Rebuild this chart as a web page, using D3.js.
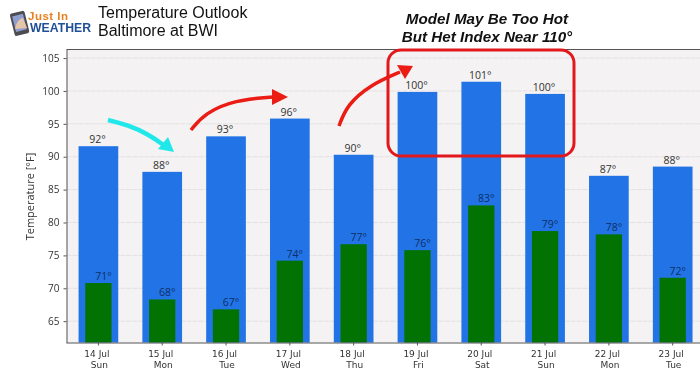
<!DOCTYPE html>
<html>
<head>
<meta charset="utf-8">
<script src="https://d3js.org/d3.v7.min.js"></script>
<style>
  html, body { margin: 0; padding: 0; background: #fff; overflow: hidden; }
  svg { filter: blur(0.35px); }
  text { font-family: "Open Sans", "Noto Sans", sans-serif; }
  .axis text { font-size: 10px; fill: #333; }
  .axis path, .axis line { stroke: #555; }
  .xaxis text { font-family: "DejaVu Sans", sans-serif; font-size: 9px; }
  .head text { font-family: "Liberation Sans", Arial, sans-serif; }
</style>
</head>
<body>
<svg id="chart" width="700" height="375"></svg>
<script>
let days = ['14 Jul', '15 Jul', '16 Jul', '17 Jul', '18 Jul', '19 Jul', '20 Jul', '21 Jul', '22 Jul', '23 Jul']
let weekdays = ['Sun', 'Mon', 'Tue', 'Wed', 'Thu', 'Fri', 'Sat', 'Sun', 'Mon', 'Tue']
let highs = [91.6, 87.7, 93.1, 95.8, 90.3, 99.85, 101.4, 99.55, 87.1, 88.5]
let lows = [70.8, 68.3, 66.8, 74.2, 76.7, 75.8, 82.6, 78.7, 78.2, 71.6]
let highLabels = ['92°', '88°', '93°', '96°', '90°', '100°', '101°', '100°', '87°', '88°']
let lowLabels = ['71°', '68°', '67°', '74°', '77°', '76°', '83°', '79°', '78°', '72°']
let yTicks = [65, 70, 75, 80, 85, 90, 95, 100, 105]

let margin = { top: 49.5, left: 66.5, bottom: 342.5 }
let svg = d3.select('#chart')

let x = d3.scaleBand().domain(days).range([margin.left, 704.6]).paddingInner(0.378).paddingOuter(0.189)
let xLow = d3.scaleBand().domain(days).range([margin.left, 704.6]).paddingInner(0.588).paddingOuter(0.294)
let y = d3.scaleLinear().domain([61.76, 106.3]).range([margin.bottom, margin.top])

// plot background
svg.append('rect')
  .attr('x', margin.left).attr('y', margin.top)
  .attr('width', 700 - margin.left).attr('height', margin.bottom - margin.top)
  .attr('fill', '#f4f2f3')

// grid
svg.append('g').selectAll('line')
  .data(yTicks)
  .enter().append('line')
  .attr('x1', margin.left).attr('x2', 700)
  .attr('y1', d => y(d)).attr('y2', d => y(d))
  .attr('stroke', '#e2e0e1')
  .attr('stroke-dasharray', '5,1')

// bars
svg.append('g').selectAll('rect')
  .data(days)
  .enter().append('rect')
  .attr('x', d => x(d))
  .attr('y', (d, i) => y(highs[i]))
  .attr('width', x.bandwidth())
  .attr('height', (d, i) => margin.bottom - y(highs[i]))
  .attr('fill', '#2274e6')

svg.append('g').selectAll('rect')
  .data(days)
  .enter().append('rect')
  .attr('x', d => xLow(d))
  .attr('y', (d, i) => y(lows[i]))
  .attr('width', xLow.bandwidth())
  .attr('height', (d, i) => margin.bottom - y(lows[i]))
  .attr('fill', '#027202')

// value labels
svg.append('g').selectAll('text')
  .data(days)
  .enter().append('text')
  .attr('x', d => x(d) + x.bandwidth() / 2 - 1)
  .attr('y', (d, i) => y(highs[i]) - 3)
  .attr('text-anchor', 'middle')
  .attr('font-size', 10.5)
  .attr('fill', '#333')
  .text((d, i) => highLabels[i])

svg.append('g').selectAll('text')
  .data(days)
  .enter().append('text')
  .attr('x', d => xLow(d) + xLow.bandwidth() / 2 + 5)
  .attr('y', (d, i) => y(lows[i]) - 3)
  .attr('text-anchor', 'middle')
  .attr('font-size', 10.5)
  .attr('fill', '#0e2f66')
  .text((d, i) => lowLabels[i])

// axes
svg.append('g').attr('class', 'axis')
  .attr('transform', 'translate(' + margin.left + ',0)')
  .call(d3.axisLeft(y).tickValues(yTicks).tickSize(3).tickSizeOuter(0).tickPadding(4))

let xAxis = svg.append('g').attr('class', 'axis xaxis')
  .attr('transform', 'translate(0,' + margin.bottom + ')')
  .call(d3.axisBottom(x).tickSize(3).tickSizeOuter(0).tickPadding(3))

xAxis.select('.domain').attr('d', 'M' + margin.left + ',0.5H700')

// day on the first line, weekday on the second
xAxis.selectAll('.tick text')
  .attr('x', -1.5)
  .attr('y', 14.5)
  .attr('dy', 0)
xAxis.selectAll('.tick')
  .append('text')
  .attr('x', 1)
  .attr('y', 25.5)
  .attr('fill', 'currentColor')
  .attr('text-anchor', 'middle')
  .text((d, i) => weekdays[i])

// top border
svg.append('line')
  .attr('x1', margin.left).attr('x2', 700)
  .attr('y1', margin.top).attr('y2', margin.top)
  .attr('stroke', '#555')

svg.append('text')
  .attr('transform', 'translate(34,196.5) rotate(-90)')
  .attr('text-anchor', 'middle')
  .attr('font-size', 11)
  .attr('fill', '#333')
  .text('Temperature [°F]')

// header
let head = svg.append('g').attr('class', 'head')
head.append('text').attr('x', 98).attr('y', 17.5).attr('font-size', 16).attr('fill', '#111').text('Temperature Outlook')
head.append('text').attr('x', 98).attr('y', 35.5).attr('font-size', 16).attr('fill', '#111').text('Baltimore at BWI')
head.append('text').attr('x', 487).attr('y', 24).attr('text-anchor', 'middle').attr('font-size', 15.2)
  .attr('font-weight', 'bold').attr('font-style', 'italic').attr('fill', '#111').text('Model May Be Too Hot')
head.append('text').attr('x', 487).attr('y', 41.5).attr('text-anchor', 'middle').attr('font-size', 15.2)
  .attr('font-weight', 'bold').attr('font-style', 'italic').attr('fill', '#111').text('But Het Index Near 110°')

// logo
let logo = svg.append('g').attr('class', 'head')
logo.append('rect').attr('x', 12).attr('y', 12).attr('width', 15).attr('height', 23).attr('rx', 2)
  .attr('transform', 'rotate(-14 19 23)').attr('fill', '#4c4c52')
logo.append('rect').attr('x', 14).attr('y', 15).attr('width', 11).attr('height', 16)
  .attr('transform', 'rotate(-14 19 23)').attr('fill', '#8f9ed0')
logo.append('path').attr('d', 'M15,29 Q17,19 23,18 L27,28 Z').attr('fill', '#e6c6a8')
logo.append('text').attr('x', 28).attr('y', 19.5).attr('font-size', 11.5).attr('font-weight', 'bold')
  .attr('fill', '#e8801e').attr('textLength', 40).text('Just In')
logo.append('text').attr('x', 30).attr('y', 32).attr('font-size', 12.5).attr('font-weight', 'bold')
  .attr('fill', '#1f4f96').attr('textLength', 61).attr('lengthAdjust', 'spacingAndGlyphs').text('WEATHER')

// annotations
let curve = d3.line().curve(d3.curveBasis)

function arrow(points, head, color, width) {
  svg.append('path').attr('d', curve(points))
    .attr('fill', 'none').attr('stroke', color).attr('stroke-width', width)
  svg.append('path').attr('d', 'M' + head.join('L') + 'Z').attr('fill', color)
}

arrow([[108, 120], [128, 125], [148, 134], [165, 146]], [[174, 152], [168, 137], [158, 149]], '#20e8ea', 4.5)
arrow([[191, 130], [205, 113], [235, 100], [273, 97]], [[288, 97], [272, 89], [272, 105]], '#ea1c14', 3.5)
arrow([[339, 126], [347, 105], [370, 85], [400, 72]], [[413, 66], [397, 65], [405, 79]], '#ea1c14', 3.5)

svg.append('rect')
  .attr('x', 388).attr('y', 50).attr('width', 186).attr('height', 106).attr('rx', 13)
  .attr('fill', 'none').attr('stroke', '#e2181c').attr('stroke-width', 3)
</script>
</body>
</html>
